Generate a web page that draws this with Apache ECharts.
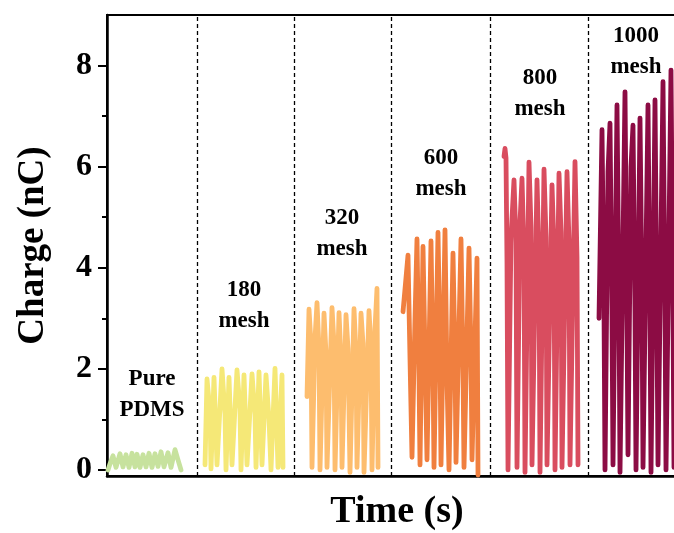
<!DOCTYPE html>
<html>
<head>
<meta charset="utf-8">
<script src="https://cdn.jsdelivr.net/npm/echarts@6/dist/echarts.min.js"></script>
<style>html,body{margin:0;padding:0;background:#fff;overflow:hidden}#c{width:674px;height:533px}</style>
</head>
<body>
<div id="c"></div>
<script>
// ---- data (time in s, charge in nC) ----
const sampleNames = ['Pure PDMS', '180 mesh', '320 mesh', '600 mesh', '800 mesh', '1000 mesh'];
const labelTexts = ['Pure\nPDMS', '180\nmesh', '320\nmesh', '600\nmesh', '800\nmesh', '1000\nmesh'];
const labelAnchorT = [4.5, 13.7, 23.5, 33.4, 43.3, 52.9];
const labelAnchorQ = [1.5, 3.26, 4.67, 5.86, 7.44, 8.27];
const separatorsT = [9.0, 18.7, 28.4, 38.3, 48.1];
const yTicks = [0, 2, 4, 6, 8];
const yMinorTicks = [1, 3, 5, 7];

const pureT = [0.1,0.3,0.6,0.9,1.3,1.6,1.9,2.2,2.5,2.8,3.0,3.3,3.6,3.9,4.2,4.5,4.8,5.1,5.4,5.7,6.1,6.4,6.8,7.1,7.4];
const pureQ = [0.0,0.12,0.28,0.05,0.32,0.06,0.30,0.05,0.33,0.06,0.31,0.05,0.30,0.06,0.33,0.05,0.32,0.07,0.36,0.06,0.34,0.05,0.40,0.2,0.0];

const m180T = [9.8,10.0,10.3,10.4,10.7,11.0,11.5,11.8,11.9,12.2,12.5,13.0,13.3,13.4,13.7,14.0,14.5,14.8,14.9,15.2,15.5,15.9,16.2,16.4,16.8,17.1,17.5,17.6];
const m180Q = [0.1,1.80,1.15,0.02,1.83,0.1,2.00,1.1,0.0,1.83,0.1,1.98,1.2,0.0,1.88,0.1,1.90,1.1,0.05,1.94,0.1,1.88,1.0,0.0,2.01,0.05,1.88,0.05];

const m320T = [20.0,20.2,20.4,20.5,20.8,21.0,21.2,21.3,21.7,21.9,22.0,22.5,22.7,22.8,23.2,23.4,23.5,23.9,24.1,24.3,24.7,24.9,25.0,25.4,25.6,25.7,26.2,26.4,26.5,26.8,27.0,27.1];
const m320Q = [1.45,3.18,2.5,0.05,2.6,3.31,2.4,0.0,3.10,2.3,0.05,3.21,2.5,0.0,3.11,2.2,0.05,3.07,2.4,-0.05,3.19,2.3,0.05,3.10,2.5,-0.05,3.15,2.4,0.0,2.8,3.59,0.05];

const m600T = [29.6,30.1,30.3,30.5,30.8,31.0,31.2,31.3,31.6,31.8,32.0,32.4,32.6,32.7,33.1,33.3,33.4,33.8,34.0,34.2,34.6,34.8,34.9,35.4,35.6,35.7,36.2,36.4,36.5,37.0,37.1];
const m600Q = [3.13,4.25,2.2,0.25,3.0,4.57,1.9,0.1,4.42,2.3,0.2,4.53,2.0,0.05,4.70,2.4,0.1,4.75,1.8,0.0,4.29,2.2,0.15,4.57,2.0,0.05,4.39,2.3,0.2,4.19,-0.1];

const m800T = [39.7,39.8,39.9,40.0,40.1,40.4,40.7,40.9,41.0,41.3,41.5,41.7,41.8,42.2,42.4,42.5,43.0,43.2,43.3,43.7,43.9,44.0,44.5,44.7,44.8,45.2,45.4,45.5,46.0,46.2,46.3,46.8,47.0,47.1];
const m800Q = [6.2,6.36,6.17,4.1,0.0,4.6,5.74,4.5,0.05,4.9,5.77,4.3,-0.05,6.09,4.8,0.1,5.74,4.2,-0.05,5.95,4.6,0.1,5.64,4.4,0.0,5.87,4.7,0.05,5.90,4.5,0.1,6.10,4.2,0.1];

const m1000T = [49.2,49.5,49.7,49.8,50.1,50.3,50.5,50.6,51.0,51.2,51.3,51.8,52.0,52.1,52.4,52.6,52.8,52.9,53.3,53.5,53.6,54.1,54.3,54.4,54.8,55.0,55.1,55.6,55.8,55.9,56.4,56.6,56.7,57.2,57.4];
const m1000Q = [3.0,6.73,3.2,0.0,5.9,6.86,3.0,0.1,7.22,3.3,-0.05,7.48,2.9,0.3,6.0,6.82,3.1,0.0,6.96,3.4,0.05,7.22,3.0,-0.05,7.32,2.8,0.1,7.68,3.2,0.0,7.91,3.1,0.05,6.6,3.0];

const seriesT = [pureT, m180T, m320T, m600T, m800T, m1000T];
const seriesQ = [pureQ, m180Q, m320Q, m600Q, m800Q, m1000Q];
const colors = ['#c7e29e', '#f5e877', '#fdbd6e', '#f07f3f', '#d94d5f', '#8c0c44'];

// ---- chart ----
const serif = '"Liberation Serif", "Times New Roman", serif';
const chart = echarts.init(document.getElementById('c'), null, { renderer: 'canvas' });

const lineSeries = sampleNames.map((name, k) => ({
  name,
  type: 'line',
  data: seriesT[k].map((t, i) => [t, seriesQ[k][i]]),
  showSymbol: false,
  symbol: 'none',
  lineStyle: { color: colors[k], width: 4.8, join: 'round', cap: 'round' },
  itemStyle: { color: colors[k] },
  silent: true,
  z: 3
}));

const option = {
  animation: false,
  backgroundColor: '#fff',
  grid: { left: 107, width: 580, top: 15, bottom: 57, show: true, borderColor: '#000', borderWidth: 2, backgroundColor: 'transparent', containLabel: false, outerBoundsMode: 'none' },
  xAxis: {
    type: 'value', min: 0, max: 58,
    axisLine: { show: true, onZero: false, lineStyle: { color: '#000', width: 2.5 } },
    axisTick: { show: false }, axisLabel: { show: false }, splitLine: { show: false },
    name: 'Time (s)', nameLocation: 'middle', nameGap: 17,
    nameTextStyle: { fontFamily: serif, fontWeight: 'bold', fontSize: 38, color: '#000' }
  },
  yAxis: [{
    type: 'value', min: -0.12, max: 9,
    axisLine: { show: true, lineStyle: { color: '#000', width: 2.5 } },
    axisTick: { show: true, inside: false, length: 9, lineStyle: { color: '#000', width: 2 }, customValues: yTicks },
    axisLabel: { show: true, margin: 15, customValues: yTicks, fontFamily: serif, fontWeight: 'bold', fontSize: 32, color: '#000' },
    splitLine: { show: false },
    name: 'Charge (nC)', nameLocation: 'middle', nameGap: 55,
    nameTextStyle: { fontFamily: serif, fontWeight: 'bold', fontSize: 37, color: '#000' }
  }, {
    type: 'value', min: -0.12, max: 9, position: 'left',
    axisLine: { show: false },
    axisTick: { show: true, length: 5, lineStyle: { color: '#000', width: 2 }, customValues: yMinorTicks },
    axisLabel: { show: false }, splitLine: { show: false }
  }],
  series: [
    ...lineSeries,
    {
      type: 'line', data: [], silent: true,
      markLine: {
        silent: true, symbol: 'none', label: { show: false },
        lineStyle: { color: '#000', type: [4, 3], width: 1.3, opacity: 1 },
        data: separatorsT.map(t => ({ xAxis: t }))
      }
    },
    {
      type: 'scatter', silent: true, symbolSize: 0, z: 5,
      itemStyle: { opacity: 1 },
      data: labelTexts.map((txt, i) => ({ value: [labelAnchorT[i], labelAnchorQ[i]], name: txt })),
      label: {
        show: true, position: 'inside', formatter: p => p.name,
        fontFamily: serif, fontWeight: 'bold', fontSize: 23, lineHeight: 31, color: '#000', align: 'center', opacity: 1
      }
    }
  ]
};
chart.setOption(option);
</script>
</body>
</html>
